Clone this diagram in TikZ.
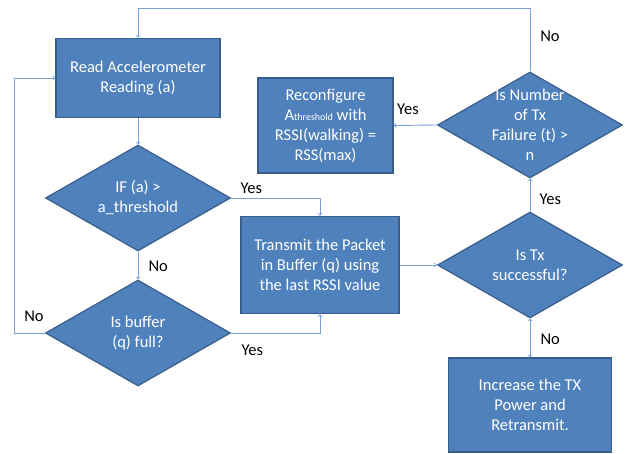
\documentclass[tikz,border=0pt]{standalone}
\usepackage{fontspec}
\setmainfont{Carlito}
\usetikzlibrary{shapes.geometric, arrows}

\definecolor{boxfill}{RGB}{79,129,189}
\definecolor{boxline}{RGB}{56,93,138}
\definecolor{flowline}{RGB}{120,162,214}

\tikzset{
  process/.style={rectangle, draw=boxline, fill=boxfill, line width=1.5pt, text=white, align=center, font=\fontsize{16.5}{20}\selectfont, inner sep=0pt},
  decision/.style={diamond, draw=boxline, fill=boxfill, line width=1.2pt, inner sep=0pt, minimum width=185pt, minimum height=106pt},
  dtext/.style={text=white, align=center, font=\fontsize{16.5}{20}\selectfont},
  flow/.style={draw=flowline, line width=0.9pt},
  answer/.style={font=\fontsize{16.5}{18}\selectfont, text=black}
}

\begin{document}
\begin{tikzpicture}[x=1pt, y=-1pt]
\useasboundingbox (0,0) rectangle (628,454);

%left column
\node[process, minimum width=164pt, minimum height=79pt] (read) at (138,78) {Read Accelerometer\\Reading (a)};
\node[decision] (ifa) at (138,198) {};
\node[dtext] at (ifa) {IF (a) >\\a\_threshold};
\node[decision] (buf) at (138,333) {};
\node[dtext] at (buf) {Is buffer\\(q) full?};

%middle column
\node[process, minimum width=158pt, minimum height=97pt] (trans) at (320,265) {Transmit the Packet\\in Buffer (q) using\\the last RSSI value};
\node[process, minimum width=135pt, minimum height=95pt] (reconf) at (325.5,125.5) {Reconfigure\\A{\fontsize{10}{10}\selectfont threshold} with\\RSSI(walking) =\\RSS(max)};

%right column
\node[decision] (num) at (530,125) {};
\node[dtext] at (num) {Is Number\\of Tx\\Failure (t) >\\n};
\node[decision] (tx) at (530,265) {};
\node[dtext] at (tx) {Is Tx\\successful?};
\node[process, minimum width=163pt, minimum height=94pt] (inc) at (530,405) {Increase the TX\\Power and\\Retransmit.};

\coordinate (topc) at (530,8);
\coordinate (leftc) at (14,333);

%connectors
\draw[flow, ->] (read.south) -- (ifa.north);
\draw[flow, ->] (ifa.east) -| (trans.north);
\node[answer, anchor=south west] at (237,197) {Yes};
\draw[flow, ->] (ifa.south) -- (buf.north);
\node[answer, anchor=west] at (145,266) {No};
\draw[flow, ->] (buf.east) -| (trans.south);
\node[answer, anchor=north west] at (238,341) {Yes};
\draw[flow, ->] (buf.west) -- (leftc) |- (read.west);
\node[answer] at (34,316) {No};
\draw[flow, ->] (trans.east) -- (tx.west);
\draw[flow, ->] (tx.north) -- (num.south);
\node[answer, anchor=west] at (536,199) {Yes};
\draw[flow, <->] (tx.south) -- (inc.north);
\node[answer, anchor=west] at (537,339) {No};
\draw[flow, ->] (num.west) -- (reconf.east);
\node[answer] at (408,109) {Yes};
\draw[flow, ->] (num.north) -- (topc) -| (read.north);
\node[answer] at (550,36) {No};

\end{tikzpicture}
\end{document}
